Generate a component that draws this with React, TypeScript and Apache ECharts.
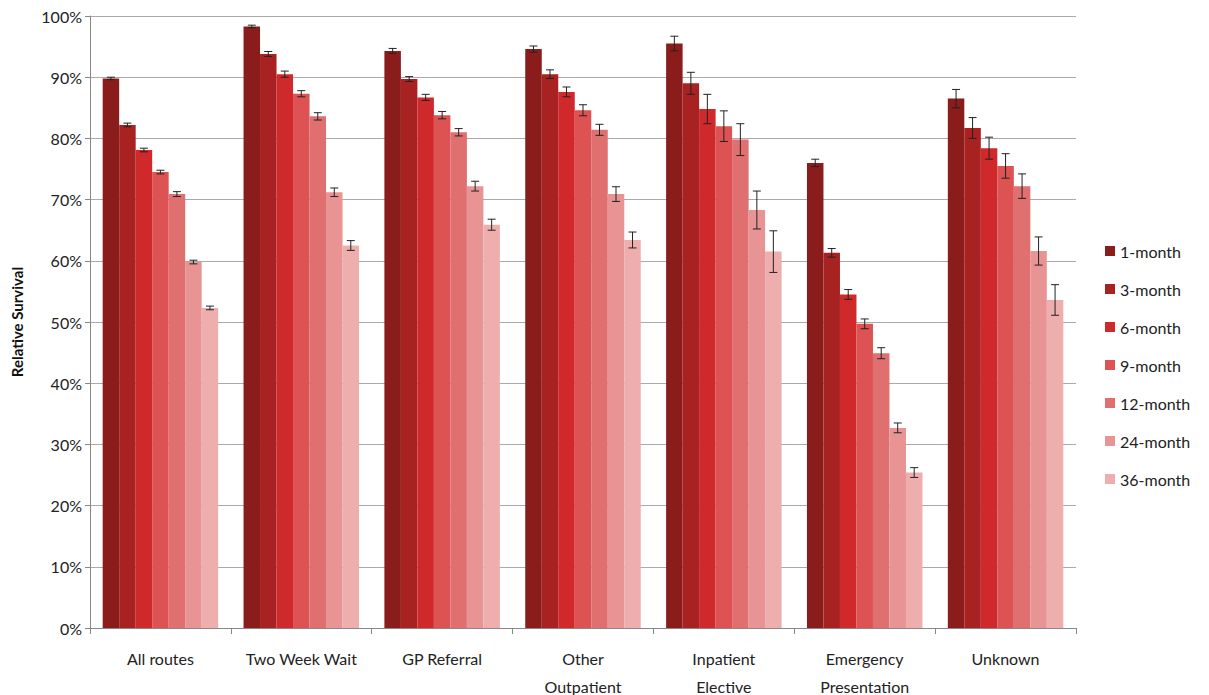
import React, { useEffect, useRef } from "react";
import * as echarts from "echarts";

const categories = ["All routes", "Two Week Wait", "GP Referral", "Other\nOutpatient", "Inpatient\nElective", "Emergency\nPresentation", "Unknown"];
const seriesNames = ["1-month", "3-month", "6-month", "9-month", "12-month", "24-month", "36-month"];
const colors = ["#8B1C1C", "#A82222", "#D0292B", "#DD5252", "#E06F6F", "#E89494", "#EEAEAE"];
// values[series][category]
const values = [
  [89.8, 98.3, 94.3, 94.6, 95.5, 76.0, 86.5],
  [82.2, 93.8, 89.7, 90.5, 89.0, 61.3, 81.7],
  [78.1, 90.5, 86.7, 87.6, 84.8, 54.5, 78.4],
  [74.5, 87.3, 83.8, 84.6, 82.0, 49.7, 75.5],
  [70.9, 83.6, 81.0, 81.4, 79.8, 44.9, 72.2],
  [59.8, 71.2, 72.2, 70.9, 68.3, 32.7, 61.6],
  [52.3, 62.5, 65.9, 63.4, 61.5, 25.4, 53.6],
];
const errors = [
  [0.2, 0.2, 0.4, 0.5, 1.2, 0.6, 1.5],
  [0.3, 0.4, 0.4, 0.7, 1.8, 0.7, 1.7],
  [0.3, 0.5, 0.5, 0.8, 2.4, 0.8, 1.8],
  [0.3, 0.5, 0.6, 0.9, 2.5, 0.8, 2.0],
  [0.4, 0.6, 0.6, 0.9, 2.6, 0.9, 2.0],
  [0.3, 0.7, 0.8, 1.2, 3.1, 0.8, 2.3],
  [0.3, 0.8, 0.9, 1.3, 3.4, 0.8, 2.5],
];
const CAT_GAP = 0.18;

export default function App() {
  const ref = useRef<HTMLDivElement>(null);
  useEffect(() => {
    document.body.style.margin = "0";
    const chart = echarts.init(ref.current!, null, { renderer: "svg" });
    const n = seriesNames.length;
    const bars = seriesNames.map((name, i) => ({
      name, type: "bar", data: values[i], barGap: "0%", barCategoryGap: CAT_GAP * 100 + "%",
      itemStyle: { color: colors[i] }, z: 2,
    }));
    const errs = seriesNames.map((name, i) => ({
      type: "custom", z: 5, silent: true,
      data: values[i].map((v, j) => [j, v - errors[i][j], v + errors[i][j]]),
      encode: { x: 0, y: [1, 2] },
      renderItem: (params: any, api: any) => {
        const c = api.value(0);
        const lo = api.coord([c, api.value(1)]);
        const hi = api.coord([c, api.value(2)]);
        const band = api.size([1, 0])[0];
        const bw = (band * (1 - CAT_GAP)) / n;
        const x = lo[0] - (bw * n) / 2 + (i + 0.5) * bw;
        const cap = 4;
        const st = { stroke: "#222", lineWidth: 1 };
        return {
          type: "group",
          children: [
            { type: "line", shape: { x1: x, y1: lo[1], x2: x, y2: hi[1] }, style: st },
            { type: "line", shape: { x1: x - cap, y1: lo[1], x2: x + cap, y2: lo[1] }, style: st },
            { type: "line", shape: { x1: x - cap, y1: hi[1], x2: x + cap, y2: hi[1] }, style: st },
          ],
        };
      },
    }));
    chart.setOption({
      animation: false,
      textStyle: { fontFamily: "Lato" },
      grid: { left: 90, right: 133, top: 16, bottom: 67, outerBoundsMode: "none", containLabel: false },
      legend: {
        orient: "vertical", left: 1100, top: 238, itemWidth: 10, itemHeight: 10, itemGap: 22,
        data: seriesNames, textStyle: { fontSize: 16, color: "#222" }, icon: "rect",
      },
      xAxis: {
        type: "category", data: categories,
        axisLine: { lineStyle: { color: "#888" } },
        axisTick: { show: true, length: 6, interval: 0, lineStyle: { color: "#888" } },
        axisLabel: { fontSize: 16, color: "#222", margin: 16, lineHeight: 28, interval: 0 },
      },
      yAxis: {
        type: "value", min: 0, max: 100, interval: 10,
        name: "Relative Survival", nameLocation: "middle", nameGap: 66,
        nameTextStyle: { fontSize: 15, fontWeight: "bold", color: "#111" },
        axisLine: { show: true, lineStyle: { color: "#888" } },
        axisTick: { show: true, lineStyle: { color: "#888" } },
        axisLabel: { fontSize: 16, color: "#222", formatter: "{value}%" },
        splitLine: { lineStyle: { color: "#aaa" } },
      },
      series: [...bars, ...errs],
    });
    return () => chart.dispose();
  }, []);
  return <div ref={ref} style={{ width: 1209, height: 695 }} />;
}
